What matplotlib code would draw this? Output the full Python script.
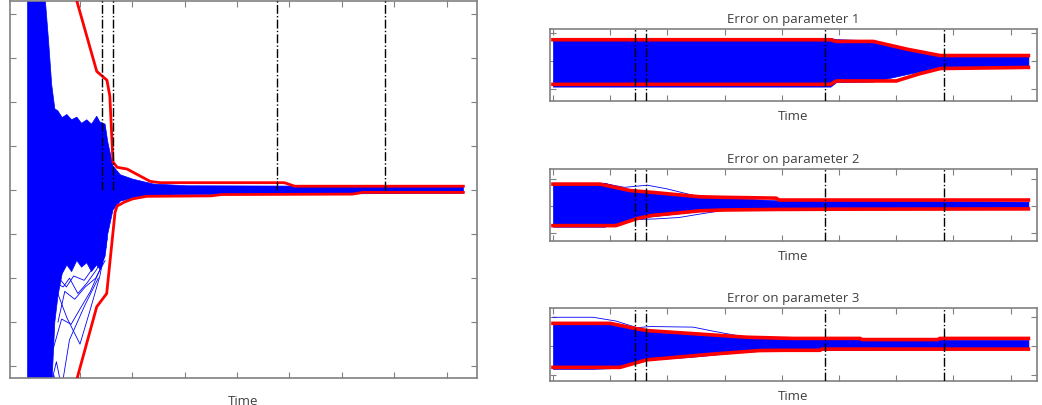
import numpy as np
import matplotlib.pyplot as plt

plt.rcParams['font.family'] = ['Open Sans', 'DejaVu Sans']

# time markers (dash-dot vertical lines)
events = [14.3, 16.3, 47.6, 68.3]
time_ticks = [0, 10, 20, 30, 40, 50, 60, 70, 80]

# ---- main panel: state error ----
t_main_band = [0, 3.0, 3.4, 4.0, 4.6, 5.2, 5.8, 6.6, 7.5, 8.4, 9.4, 10.3, 11.3, 12.2, 13.2,
               13.8, 14.8, 15.3, 16.3, 17.7, 20.1, 24, 30.4, 83.2]
main_band_up = [6, 6, 4.3, 3.4, 2.4, 1.85, 1.8, 1.65, 1.72, 1.6, 1.66, 1.52, 1.6, 1.5, 1.68,
                1.55, 1.5, 1.1, 0.55, 0.35, 0.25, 0.14, 0.1, 0.08]
main_band_lo = [-6, -6, -6, -6, -4.5, -3.0, -2.4, -1.9, -1.7, -1.85, -1.6, -1.75, -1.65, -1.85,
                -1.7, -1.8, -1.5, -1.0, -0.45, -0.25, -0.18, -0.12, -0.1, -0.07]

t_red_up = [0, 9.4, 13.2, 15.15, 15.7, 16.3, 17.1, 19, 21.5, 23.4, 25.3, 49, 51, 83.2]
main_red_up = [8.2, 4.3, 2.7, 2.5, 2.14, 0.64, 0.52, 0.48, 0.32, 0.2, 0.17, 0.17, 0.09, 0.09]
t_red_lo = [0, 9.4, 13.2, 15.1, 16.7, 17.1, 18.5, 20, 22.7, 35, 37, 62, 64, 83.2]
main_red_lo = [-8.2, -4.3, -2.65, -2.35, -0.5, -0.36, -0.27, -0.2, -0.14, -0.13, -0.1, -0.09, -0.05, -0.05]

# a few scattered trajectories below the dense bundle
outlier_t = [
    [5.6, 7.5, 10.0, 12.0, 13.8, 15.2],
    [5.8, 7.1, 9.0, 11.0, 13.0, 14.8],
    [4.9, 6.5, 8.3, 10.5, 12.0, 14.4],
    [4.5, 5.5, 6.5, 8.0, 9.5, 11.0, 13.5],
    [5.2, 6.8, 8.0, 9.6, 11.4, 13.2, 15.0],
    [5.0, 6.0, 7.4, 8.8, 10.8, 12.6, 14.6],
    [4.4, 5.0, 5.8, 6.6],
]
outlier_y = [
    [-2.3, -2.9, -3.5, -2.7, -1.95, -1.1],
    [-3.0, -2.3, -2.48, -2.2, -2.0, -1.6],
    [-3.6, -2.93, -3.05, -2.6, -2.3, -1.64],
    [-4.4, -3.9, -4.5, -3.4, -3.0, -2.6, -2.0],
    [-2.1, -2.2, -2.0, -2.35, -2.1, -1.8, -1.3],
    [-2.6, -2.0, -2.2, -1.95, -2.05, -1.75, -1.4],
    [-5.0, -4.2, -4.6, -5.0],
]

# ---- parameter 1 ----
p1_t_band = [0, 48.5, 49.5, 56, 62, 67.7, 83.1]
p1_band_up = [0.82, 0.82, 0.78, 0.74, 0.45, 0.2, 0.18]
p1_band_lo = [-0.9, -0.9, -0.74, -0.72, -0.45, -0.24, -0.2]
p1_t_up = [0, 48.5, 49.5, 56, 62, 67.7, 83.1]
p1_red_up = [0.76, 0.76, 0.7, 0.7, 0.42, 0.2, 0.2]
p1_t_lo = [0, 48.5, 49.5, 60, 64, 67.7, 83.1]
p1_red_lo = [-0.82, -0.82, -0.7, -0.7, -0.45, -0.26, -0.22]

# ---- parameter 2 ----
p2_t_band = [0, 9, 13.5, 17, 25.7, 29.7, 39, 83.1]
p2_band_up = [0.85, 0.85, 0.58, 0.52, 0.33, 0.3, 0.2, 0.15]
p2_band_lo = [-0.78, -0.78, -0.52, -0.4, -0.2, -0.16, -0.12, -0.1]
p2_t_up = [0, 8.2, 13.5, 17, 25.7, 29.7, 39, 39.5, 83.1]
p2_red_up = [0.8, 0.8, 0.56, 0.5, 0.33, 0.31, 0.28, 0.21, 0.21]
p2_t_lo = [0, 11, 14.5, 17, 25.7, 30, 39, 50, 83.1]
p2_red_lo = [-0.74, -0.74, -0.49, -0.37, -0.19, -0.16, -0.14, -0.13, -0.12]
p2_extra_t = [[9, 12.5, 16.5, 20, 25.5, 29], [14, 18, 22, 26, 29]]
p2_extra_y = [[0.82, 0.68, 0.76, 0.62, 0.33, 0.25], [-0.52, -0.49, -0.44, -0.3, -0.2]]

# ---- parameter 3 ----
p3_t_band = [0, 7, 10, 14.7, 16.5, 24.5, 34, 42, 83.1]
p3_band_up = [0.8, 0.8, 0.78, 0.58, 0.54, 0.45, 0.28, 0.22, 0.2]
p3_band_lo = [-0.8, -0.8, -0.78, -0.56, -0.49, -0.38, -0.2, -0.15, -0.12]
p3_t_up = [0, 10, 14.7, 16.5, 34, 42, 53.7, 54, 67.3, 67.6, 83.1]
p3_red_up = [0.77, 0.77, 0.58, 0.52, 0.29, 0.25, 0.25, 0.21, 0.21, 0.25, 0.25]
p3_t_lo = [0, 11.7, 16.4, 28, 36, 40.5, 46.7, 47, 83.1]
p3_red_lo = [-0.75, -0.75, -0.49, -0.29, -0.17, -0.16, -0.16, -0.12, -0.12]
p3_extra_t = [[0, 7, 11, 14.7, 17, 24.5, 28, 33.5]]
p3_extra_y = [[0.98, 0.98, 0.85, 0.62, 0.66, 0.64, 0.5, 0.3]]

W, H = 1042, 406
fig = plt.figure(figsize=(W / 100, H / 100), dpi=100)
grey = '#808080'
txt = '#404040'
BLUE = '#0000ff'
RED = '#ff0000'


def box(x0, y0, x1, y1):
    return [x0 / W, 1 - y1 / H, (x1 - x0) / W, (y1 - y0) / H]


def style(ax, yticks):
    ax.set_xticks(time_ticks)
    ax.set_yticks(yticks)
    ax.set_xticklabels([])
    ax.set_yticklabels([])
    ax.tick_params(direction='in', length=4, width=0.8, color=grey,
                   top=True, right=True)
    for s in ax.spines.values():
        s.set_color(grey)
        s.set_linewidth(1.2)


# main panel
ax = fig.add_axes(box(10, 2, 477, 379))
ax.fill_between(t_main_band, main_band_lo, main_band_up, color=BLUE, lw=0.5, zorder=2)
for tt, yy in zip(outlier_t, outlier_y):
    ax.plot(tt, yy, color=BLUE, lw=0.6, zorder=2)
ax.plot(t_red_up, main_red_up, color=RED, lw=2.0, zorder=3)
ax.plot(t_red_lo, main_red_lo, color=RED, lw=2.0, zorder=3)
for e in events:
    ax.plot([e, e], [0, 5], color='black', ls='-.', lw=1.0, zorder=4)
ax.set_xlim(-3.36, 85.8)
ax.set_ylim(-4.27, 4.3)
style(ax, [-4, -3, -2, -1, 0, 1, 2, 3, 4])
ax.set_xlabel('Time', fontsize=9.5, color=txt, labelpad=8)

panels = [
    (box(550, 30, 1037, 102), (-1.41, 1.14), 'Error on parameter 1',
     p1_t_band, p1_band_up, p1_band_lo, p1_t_up, p1_red_up, p1_t_lo, p1_red_lo, [], []),
    (box(550, 170, 1037, 242), (-1.31, 1.36), 'Error on parameter 2',
     p2_t_band, p2_band_up, p2_band_lo, p2_t_up, p2_red_up, p2_t_lo, p2_red_lo, p2_extra_t, p2_extra_y),
    (box(550, 309, 1037, 382), (-1.22, 1.3), 'Error on parameter 3',
     p3_t_band, p3_band_up, p3_band_lo, p3_t_up, p3_red_up, p3_t_lo, p3_red_lo, p3_extra_t, p3_extra_y),
]

for (pos, ylim, title, tb, bu, bl, tu, ru, tl, rl, et, ey) in panels:
    a = fig.add_axes(pos)
    a.fill_between(tb, bl, bu, color=BLUE, lw=0.5, zorder=2)
    for tt, yy in zip(et, ey):
        a.plot(tt, yy, color=BLUE, lw=0.6, zorder=2)
    a.plot(tu, ru, color=RED, lw=2.6, zorder=3)
    a.plot(tl, rl, color=RED, lw=2.6, zorder=3)
    for e in events:
        a.axvline(e, color='black', ls='-.', lw=1.0, zorder=4)
    a.set_xlim(-0.52, 84.6)
    a.set_ylim(*ylim)
    style(a, [-1, 0, 1])
    a.set_title(title, fontsize=9.5, color=txt, pad=5)
    a.set_xlabel('Time', fontsize=9.5, color=txt, labelpad=2)

fig.savefig('out.png', dpi=100)
